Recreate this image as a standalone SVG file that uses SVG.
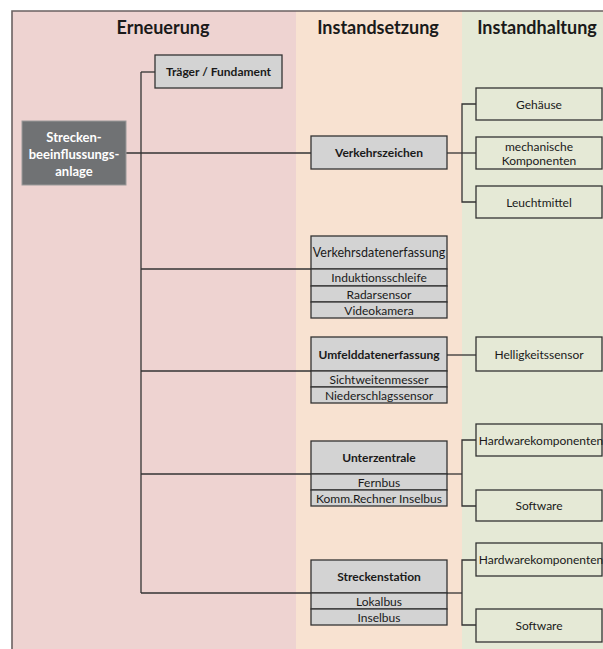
<svg xmlns="http://www.w3.org/2000/svg" width="603" height="649" viewBox="0 0 603 649">
  <style>
    text { font-family: Lato, "Open Sans", "Liberation Sans", sans-serif; fill: #1a1a1a; text-anchor: middle; }
    .title { font-size: 18px; font-weight: 700; }
    .root-box { fill: #707274; stroke: #9a9a9a; stroke-width: 1; }
    .root-txt { fill: #ffffff; font-size: 13px; font-weight: 700; }
    .box { fill: #d3d3d3; stroke: #333333; stroke-width: 1.3; }
    .leaf { fill: none; stroke: #333333; stroke-width: 1.3; }
    .hdr { font-size: 12px; font-weight: 700; }
    .row { font-size: 12px; }
    .lbl { font-size: 12px; }
    .conn line, .conn polyline { stroke: #333333; stroke-width: 1.3; fill: none; }
  </style>

  <!-- column backgrounds -->
  <rect x="0" y="0" width="603" height="649" fill="#ffffff"/>
  <rect x="12" y="11" width="284" height="638" fill="#eed3d1"/>
  <rect x="296" y="11" width="166" height="638" fill="#f8e2d1"/>
  <rect x="462" y="11" width="141" height="638" fill="#e5e9d6"/>
  <!-- frame -->
  <polyline points="12,649 12,11 603,11" fill="none" stroke="#6b6262" stroke-width="1.6"/>

  <!-- column headings -->
  <text class="title" x="163" y="34">Erneuerung</text>
  <text class="title" x="378" y="34">Instandsetzung</text>
  <text class="title" x="537" y="34">Instandhaltung</text>

  <!-- connectors -->
  <g id="connectors" class="conn">
    <line x1="141" y1="72" x2="141" y2="593"/>
    <line x1="141" y1="72" x2="155" y2="72"/>
    <line x1="126" y1="153" x2="311" y2="153"/>
    <line x1="141" y1="269" x2="311" y2="269"/>
    <line x1="141" y1="371" x2="311" y2="371"/>
    <line x1="141" y1="474" x2="311" y2="474"/>
    <line x1="141" y1="593" x2="311" y2="593"/>
    <!-- Verkehrszeichen branch -->
    <line x1="447" y1="153" x2="476" y2="153"/>
    <polyline points="476,104 462,104 462,202 476,202"/>
    <!-- Umfelddatenerfassung branch -->
    <line x1="447" y1="355" x2="476" y2="355"/>
    <!-- Unterzentrale branch -->
    <line x1="447" y1="474" x2="462" y2="474"/>
    <polyline points="476,440 462,440 462,506 476,506"/>
    <!-- Streckenstation branch -->
    <line x1="447" y1="593" x2="462" y2="593"/>
    <polyline points="476,560 462,560 462,625 476,625"/>
  </g>

  <!-- root node -->
  <g id="sba">
    <rect class="root-box" x="22" y="121" width="104" height="64"/>
    <text class="root-txt" x="74" y="141.5">Strecken-</text>
    <text class="root-txt" x="74" y="158.5">beeinflussungs-</text>
    <text class="root-txt" x="74" y="175.5">anlage</text>
  </g>

  <g id="traeger">
    <rect class="box" x="155" y="55" width="127" height="33"/>
    <text class="hdr" x="218.5" y="76">Träger / Fundament</text>
  </g>

  <g id="verkehrszeichen">
    <rect class="box" x="311" y="136" width="136" height="33"/>
    <text class="hdr" x="379" y="157">Verkehrszeichen</text>
  </g>

  <g id="verkehrsdaten">
    <rect class="box" x="311" y="236" width="136" height="33"/>
    <rect class="box" x="311" y="269" width="136" height="17"/>
    <rect class="box" x="311" y="286" width="136" height="16"/>
    <rect class="box" x="311" y="302" width="136" height="16"/>
    <text class="hdr" x="379" y="257" style="font-weight:400;font-size:12.5px">Verkehrsdatenerfassung</text>
    <text class="row" x="379" y="282">Induktionsschleife</text>
    <text class="row" x="379" y="298.5">Radarsensor</text>
    <text class="row" x="379" y="314.5">Videokamera</text>
  </g>

  <g id="umfelddaten">
    <rect class="box" x="311" y="337" width="136" height="34"/>
    <rect class="box" x="311" y="371" width="136" height="16"/>
    <rect class="box" x="311" y="387" width="136" height="16"/>
    <text class="hdr" x="379" y="358.5">Umfelddatenerfassung</text>
    <text class="row" x="379" y="383.5">Sichtweitenmesser</text>
    <text class="row" x="379" y="399.5">Niederschlagssensor</text>
  </g>

  <g id="unterzentrale">
    <rect class="box" x="311" y="441" width="136" height="33"/>
    <rect class="box" x="311" y="474" width="136" height="16"/>
    <rect class="box" x="311" y="490" width="136" height="16"/>
    <text class="hdr" x="379" y="462">Unterzentrale</text>
    <text class="row" x="379" y="486.5">Fernbus</text>
    <text class="row" x="379" y="502.5">Komm.Rechner Inselbus</text>
  </g>

  <g id="streckenstation">
    <rect class="box" x="311" y="560" width="136" height="33"/>
    <rect class="box" x="311" y="593" width="136" height="16"/>
    <rect class="box" x="311" y="609" width="136" height="16"/>
    <text class="hdr" x="379" y="581">Streckenstation</text>
    <text class="row" x="379" y="605.5">Lokalbus</text>
    <text class="row" x="379" y="621.5">Inselbus</text>
  </g>

  <!-- maintenance items -->
  <g id="gehaeuse">
    <rect class="leaf" x="476" y="88" width="126" height="32"/>
    <text class="lbl" x="539" y="108.5">Gehäuse</text>
  </g>
  <g id="mechanik">
    <rect class="leaf" x="476" y="137" width="126" height="32"/>
    <text class="lbl" x="539" y="150.5">mechanische</text>
    <text class="lbl" x="539" y="165">Komponenten</text>
  </g>
  <g id="leuchtmittel">
    <rect class="leaf" x="476" y="186" width="126" height="32"/>
    <text class="lbl" x="539" y="206.5">Leuchtmittel</text>
  </g>
  <g id="helligkeit">
    <rect class="leaf" x="476" y="337" width="126" height="34"/>
    <text class="lbl" x="539" y="358.5">Helligkeitssensor</text>
  </g>
  <g id="hw1">
    <rect class="leaf" x="476" y="424" width="126" height="32"/>
    <text class="lbl" x="541" y="444.5">Hardwarekomponenten</text>
  </g>
  <g id="sw1">
    <rect class="leaf" x="476" y="490" width="126" height="31"/>
    <text class="lbl" x="539" y="510">Software</text>
  </g>
  <g id="hw2">
    <rect class="leaf" x="476" y="543" width="126" height="33"/>
    <text class="lbl" x="541" y="563.5">Hardwarekomponenten</text>
  </g>
  <g id="sw2">
    <rect class="leaf" x="476" y="609" width="126" height="33"/>
    <text class="lbl" x="539" y="629.5">Software</text>
  </g>
</svg>
